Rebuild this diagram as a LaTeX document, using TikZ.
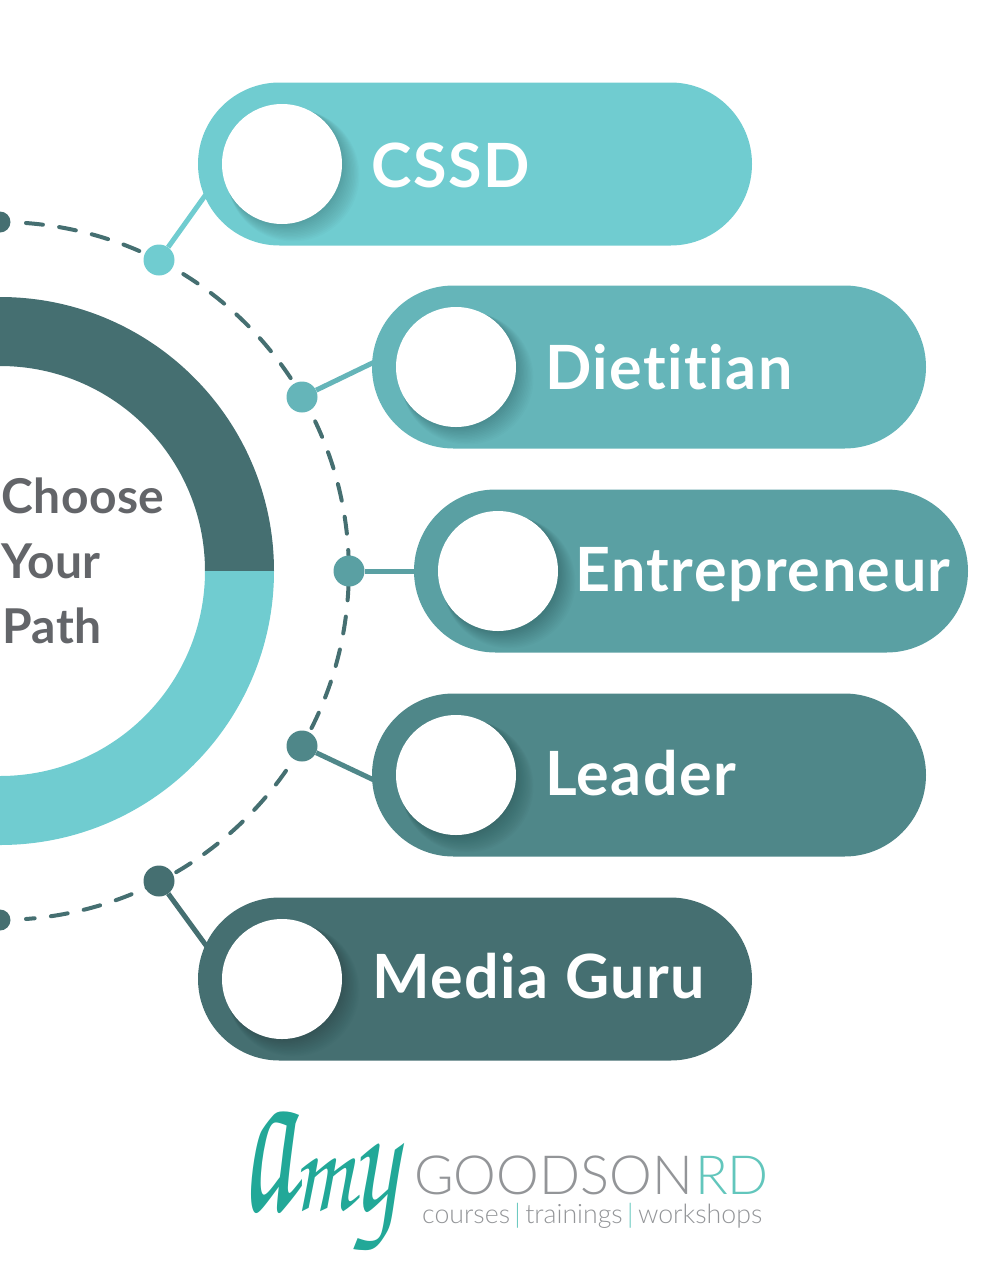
\documentclass[tikz,border=0pt]{standalone}
\usepackage[T1]{fontenc}
\usepackage{fontspec}
\usepackage{xcolor}
\usepackage{graphicx}
\setmainfont[Ligatures=NoCommon]{Lato}
\newfontfamily\logofont[Ligatures=NoCommon]{Lato Light}
\usetikzlibrary{backgrounds, positioning}

\definecolor{pathA}{HTML}{70CCD0}
\definecolor{pathB}{HTML}{65B5B9}
\definecolor{pathC}{HTML}{5AA0A3}
\definecolor{pathD}{HTML}{4F8789}
\definecolor{pathE}{HTML}{456F71}
\definecolor{labelgray}{HTML}{636569}
\definecolor{logogray}{HTML}{939598}
\definecolor{logoteal}{HTML}{22A898}
\definecolor{logomint}{HTML}{62C6BC}

\tikzset{
    pill/.style={draw=none, rectangle, minimum width=554pt, minimum height=163pt, rounded corners=81.5pt, inner sep=0pt},
    hole/.style={circle, fill=white, minimum size=120pt, inner sep=0pt, outer sep=0pt},
    knob/.style={circle, minimum size=31pt, inner sep=0pt},
    endknob/.style={circle, fill=pathE, minimum size=21pt, inner sep=0pt},
    pilltext/.style={anchor=base west, text=white, inner sep=0pt, font=\fontsize{61}{63}\selectfont\bfseries\addfontfeature{LetterSpace=2.5}},
    hubtext/.style={anchor=base west, text=labelgray, inner sep=0pt, font=\fontsize{48}{50}\selectfont\bfseries\addfontfeature{LetterSpace=1}},
    logotext/.style={anchor=base west, inner sep=0pt, text=logogray, font=\logofont\fontsize{54}{56}\selectfont},
    link/.style={line width=5pt},
}

\begin{document}
\begin{tikzpicture}[x=1pt, y=-1pt]
    \useasboundingbox (0,0) rectangle (985,1286);
    \coordinate (hub) at (0,571);

    % Ring
    \fill[pathE] (0,297) arc[start angle=-90, end angle=0, radius=274] -- (205,571) arc[start angle=0, end angle=-90, radius=205] -- cycle;
    \fill[pathA] (0,845) arc[start angle=90, end angle=0, radius=274] -- (205,571) arc[start angle=0, end angle=90, radius=205] -- cycle;

    % Dashed orbit
    \draw[pathE, line width=4pt, dash pattern=on 17pt off 16.4pt, line cap=round] (26,223) arc[start angle=-85.7, end angle=85.7, radius=349];

    \node[endknob] (top) at (0,222) {};
    \node[endknob] (bottom) at (0,920) {};

    % Pills, holes and knobs
    \foreach \n/\x/\y/\kx/\ky/\tx/\ty/\col/\lab in {
            1/475/164/159/260/371/187/pathA/CSSD,
            2/649/367/302/397/545/389/pathB/Dietitian,
            3/691/571/349/571/575/591/pathC/Entrepreneur,
            4/649/775/302/746/545/795/pathD/Leader,
            5/475/979/159/881/372/998/pathE/Media Guru} {
            \node[pill, fill=\col] (pill\n) at (\x,\y) {};
            \foreach \s in {1,...,14} {
                    \fill[black, opacity=0.016] (\x-193+0.8*\s,\y+0.8*\s) circle ({58.5+0.55*\s});
                }
            \node[hole] (hole\n) at (\x-193,\y) {};
            \node[knob, fill=\col] (knob\n) at (\kx,\ky) {};
            \node[pilltext] (text\n) at (\tx,\ty) {\lab};
        }

    % Connectors behind the pills
    \begin{scope}[on background layer]
        \draw[link, pathA] (knob1) -- (hole1.187);
        \draw[link, pathB] (knob2) -- (hole2.164);
        \draw[link, pathC] (knob3) -- (hole3);
        \draw[link, pathD] (knob4) -- (hole4.196);
        \draw[link, pathE] (knob5) -- (hole5.170);
    \end{scope}

    % Centre label
    \node[hubtext] (choose) at (1,513) {Choose};
    \node[hubtext] (your) at (1,578) {Your};
    \node[hubtext] (path) at (2,643) {Path};

    % Logo
    \node[anchor=base west, text=logoteal, inner sep=0pt, font=\usefont{T1}{pzc}{mb}{it}\fontsize{120}{120}\selectfont] (amy) at (240,1210) {\scalebox{1.05}[2]{a}\scalebox{0.8}[1.05]{m}\scalebox{0.92}[1.35]{y}};
    \node[logotext] (goodson) at (414,1194) {GOODSON};
    \node[logotext, text=logomint] (rd) at (695,1194) {RD};
    \node[logotext, font=\logofont\fontsize{26.7}{28}\selectfont] (tagline) at (422,1223) {courses\,\textcolor{logomint}{|}\,trainings\,\textcolor{logomint}{|}\,workshops};
\end{tikzpicture}
\end{document}
